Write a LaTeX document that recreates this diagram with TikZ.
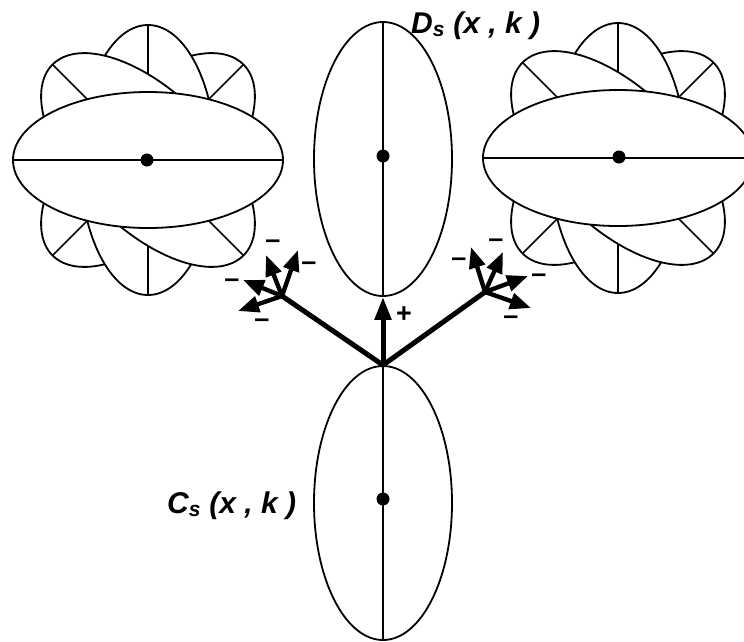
\documentclass[tikz,border=0pt]{standalone}
\usepackage{fontspec}
\setmainfont{Liberation Sans}
\usetikzlibrary{arrows.meta,shapes.geometric}
\begin{document}
\begin{tikzpicture}[x=1pt,y=-1pt,
  petal/.style={draw=black,fill=white,line width=1.8pt},
  axisline/.style={line width=1.5pt},
  lobe/.style={ellipse,draw=black,fill=white,line width=1.8pt,inner sep=0pt,
               minimum width=138pt,minimum height=274pt},
  centerdot/.style={circle,fill=black,inner sep=0pt,minimum size=13pt},
  heavyline/.style={line width=5pt,line cap=round},
  mainarrow/.style={line width=5pt,-{Triangle[length=23pt,width=16pt]}},
  smallarrow/.style={line width=4.4pt,-{Triangle[length=21pt,width=16pt]}},
  sign/.style={font=\fontsize{27}{27}\selectfont\bfseries,inner sep=0pt},
  funclabel/.style={font=\fontsize{30}{30}\selectfont\bfseries\itshape,inner sep=0pt,anchor=base west},
  flower/.pic={
    \foreach \a in {45,90,135,0} {
      \begin{scope}[rotate=\a]
        \draw[petal] (0,0) ellipse [x radius=135, y radius=68];
        \draw[axisline] (-135,0) -- (135,0);
      \end{scope}
    }
  }
]
\useasboundingbox (0,0) rectangle (744,641);
\clip (0,0) rectangle (744,641);

% side flowers
\pic at (148,160) {flower};
\pic at (618,158) {flower};
\node[centerdot] (dl) at (147,160) {};
\node[centerdot] (dr) at (619,157) {};

% central lobes
\node[lobe] (D) at (383,159) {};
\draw[axisline] (D.north) -- (D.south);
\node[centerdot] (dd) at (383,156) {};
\node[lobe] (C) at (383,503) {};
\draw[axisline] (C.north) -- (C.south);
\node[centerdot] (dc) at (383,499) {};

% labels
\node[funclabel] (Dl) at (411,33) {D\textsubscript{s} (x , k )};
\node[funclabel] (Cl) at (167,513) {C\textsubscript{s} (x , k )};

% main arrows
\coordinate (L) at (282,296);
\coordinate (R) at (485,292);
\draw[heavyline] (C.north) -- (L);
\draw[heavyline] (C.north) -- (R);
\draw[mainarrow] (C.north) -- (D.south);
\node[sign] (plus) at (404,315) {+};

% left cluster
\coordinate (L1) at (266,255);
\coordinate (L2) at (298,250);
\coordinate (L3) at (243,280);
\coordinate (L4) at (238,311);
\foreach \t in {L1,L2,L3,L4} \draw[smallarrow] (L) -- (\t);
\node[sign] (ml1) at (273,244) {–};
\node[sign] (ml2) at (309,266) {–};
\node[sign] (ml3) at (232,283) {–};
\node[sign] (ml4) at (262,323) {–};

% right cluster
\coordinate (R1) at (471,247);
\coordinate (R2) at (503,252);
\coordinate (R3) at (528,276);
\coordinate (R4) at (531,308);
\foreach \t in {R1,R2,R3,R4} \draw[smallarrow] (R) -- (\t);
\node[sign] (mr1) at (459,262) {–};
\node[sign] (mr2) at (496,243) {–};
\node[sign] (mr3) at (539,278) {–};
\node[sign] (mr4) at (511,320) {–};
\end{tikzpicture}
\end{document}
